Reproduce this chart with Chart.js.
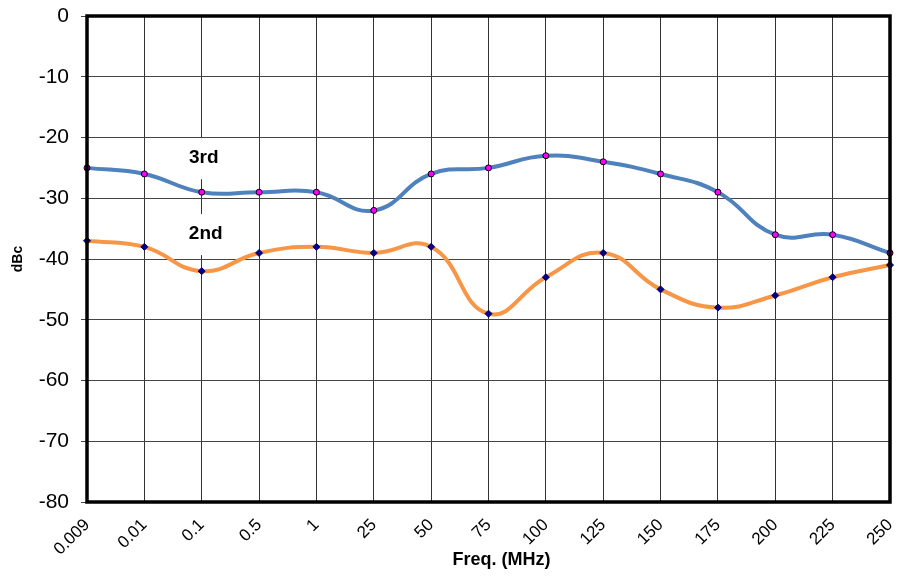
<!DOCTYPE html>
<html><head><meta charset="utf-8">
<script src="https://cdn.jsdelivr.net/npm/chart.js@4"></script>
<style>html,body{margin:0;padding:0;background:#fff}#wrap{width:900px;height:578px}</style>
</head><body><div id="wrap"><canvas id="c" width="900" height="578"></canvas></div>
<script>
const categories = ['0.009','0.01','0.1','0.5','1','25','50','75','100','125','150','175','200','225','250'];
const third = [-25,-26,-29,-29,-29,-32,-26,-25,-23,-24,-26,-29,-36,-36,-39];
const second = [-37,-38,-42,-39,-38,-39,-38,-49,-43,-39,-45,-48,-46,-43,-41];
const seriesLabels = [{text:'3rd', index:2, value:-23.4},{text:'2nd', index:2, value:-35.9}];
const xTitle = 'Freq. (MHz)';

const FONT = '"Liberation Sans", Arial, sans-serif';

const framePlugin = {
  id:'frame',
  afterDatasetsDraw(chart){
    const {ctx, chartArea:a} = chart;
    ctx.save();
    ctx.lineWidth = 3.5; ctx.strokeStyle = '#000';
    ctx.strokeRect(a.left, a.top, a.right-a.left, a.bottom-a.top);
    ctx.restore();
  }
};
const labelPlugin = {
  id:'serieslabels',
  afterDraw(chart){
    const {ctx, scales, chartArea:a} = chart;
    ctx.save();
    ctx.textAlign='center'; ctx.textBaseline='middle';
    seriesLabels.forEach((l,i)=>{
      const x = scales.x.getPixelForValue(l.index);
      const y = scales.y.getPixelForValue(l.value);
      ctx.fillStyle='#fff';
      ctx.fillRect(x-25, y-20, 55, 41);
      ctx.fillStyle='#000';
      ctx.font = 'bold 19px ' + FONT;
      ctx.fillText(l.text, x + (i===0?2:4), y);
    });
    ctx.font = 'bold 18px ' + FONT;
    ctx.fillText(xTitle, (a.left+a.right)/2 + 13, a.bottom + 58);
    ctx.restore();
  }
};

new Chart(document.getElementById('c'), {
  type:'line',
  data:{
    labels:categories,
    datasets:[
      {label:'3rd', data:third, borderColor:'#4F81BD', borderWidth:4, tension:0.45,
       pointStyle:'circle', pointRadius:3, pointBackgroundColor:'#FF00FF', pointBorderColor:'#000', pointBorderWidth:1},
      {label:'2nd', data:second, borderColor:'#F79646', borderWidth:4, tension:0.45,
       pointStyle:'rectRot', pointRadius:3.5, pointBackgroundColor:'#000080', pointBorderColor:'#000080', pointBorderWidth:1}
    ]
  },
  options:{
    responsive:false, animation:false,
    layout:{padding:{top:16,right:10,left:0,bottom:0}},
    plugins:{legend:{display:false}, tooltip:{enabled:false}},
    scales:{
      x:{offset:false,
         afterFit(s){ s.height = 76; s.paddingRight = 0; s.paddingLeft = 0; },
         grid:{color:'#333', lineWidth:1, drawTicks:false},
         border:{display:false},
         ticks:{font:{family:FONT,size:17}, color:'#000', maxRotation:45, minRotation:45, padding:13, labelOffset:0, autoSkip:false},
         title:{display:false}
      },
      y:{min:-80, max:0,
         afterFit(s){ s.paddingTop = 0; s.paddingBottom = 0; s.width = 87; },
         grid:{color:'#444', lineWidth:1, tickLength:6},
         border:{display:false},
         ticks:{stepSize:10, font:{family:FONT,size:21}, color:'#000', padding:12},
         title:{display:true, text:'dBc', font:{family:FONT,size:14,weight:'bold'}, color:'#000', padding:{top:10,bottom:0}}
      }
    }
  },
  plugins:[framePlugin, labelPlugin]
});
</script></body></html>
